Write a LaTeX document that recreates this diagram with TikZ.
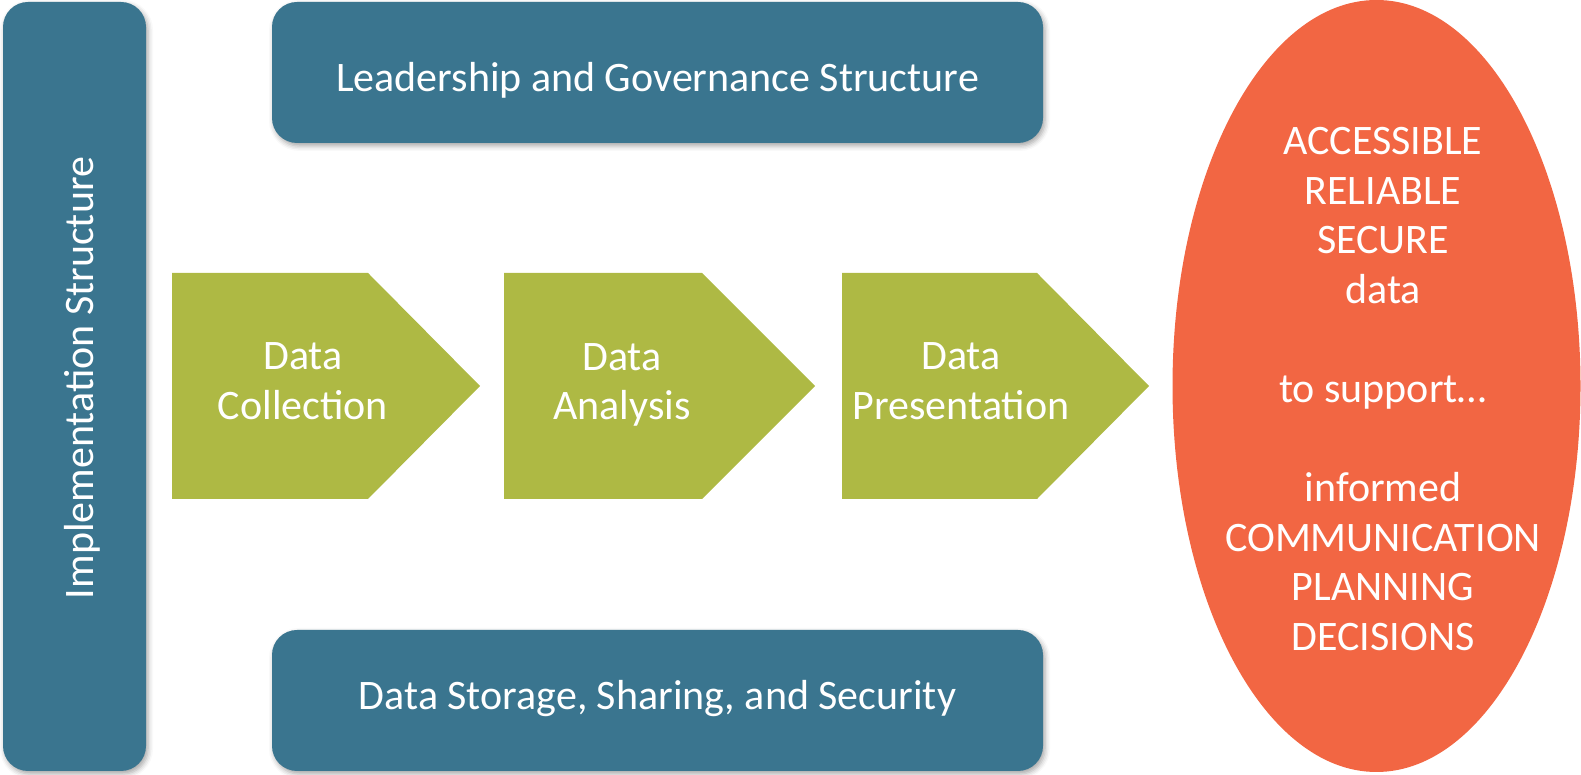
\documentclass[tikz,border=0pt]{standalone}
\usepackage{fontspec}
\setmainfont{Carlito}
\usetikzlibrary{shapes.geometric,shadows.blur}

\definecolor{govblue}{RGB}{58,117,143}
\definecolor{stagegreen}{RGB}{174,185,68}
\definecolor{goalorange}{RGB}{242,102,67}

\begin{document}
\begin{tikzpicture}[x=1pt, y=1pt,
        frame/.style={
            rectangle, rounded corners=25pt, fill=govblue, inner sep=0pt,
            blur shadow={shadow xshift=2pt, shadow yshift=-3pt, shadow blur radius=5pt, shadow opacity=35}
        },
        stage/.style={
            fill=stagegreen
        },
        caption/.style={
            text=white, align=center, font=\fontsize{42}{49.6}\selectfont
        },
    ]
        \useasboundingbox (0,0) rectangle (1581,775);

        % blue frame around the process
        \node (side) [frame, minimum width=143pt, minimum height=769pt] at (74.5,388.5) {};
        \node (sideText) [caption, rotate=90] at (82,397) {Implementation Structure};
        \node (leadership) [frame, minimum width=771pt, minimum height=141pt] at (657.5,702.5) {};
        \node (leadershipText) [caption] at (657.5,694.5) {Leadership and Governance Structure};
        \node (storage) [frame, minimum width=771pt, minimum height=141pt] at (657.5,74.5) {};
        \node (storageText) [caption] at (657.5,76.5) {Data Storage, Sharing, and Security};

        % the three stages
        \fill[stage] (172,276) -- (368,276) -- (480,389) -- (368,502) -- (172,502) -- cycle;
        \node (collection) [caption] at (303,394) {Data\\Collection};
        \fill[stage] (504,276) -- (702,276) -- (815,389) -- (702,502) -- (504,502) -- cycle;
        \node (analysis) [caption] at (622,390) {Data\\Analysis};
        \fill[stage] (842,276) -- (1037,276) -- (1149,389) -- (1037,502) -- (842,502) -- cycle;
        \node (presentation) [caption] at (961,394) {Data\\Presentation};

        % outcome
        \node (goal) [ellipse, fill=goalorange, inner sep=0pt, minimum width=408pt, minimum height=772pt] at (1376.5,389) {};
        \node (goalText) [caption] at (1383,386) {ACCESSIBLE\\RELIABLE\\SECURE\\data\\[49.6pt]to support…\\[49.6pt]informed\\COMMUNICATION\\PLANNING\\DECISIONS};

    \end{tikzpicture}
\end{document}
